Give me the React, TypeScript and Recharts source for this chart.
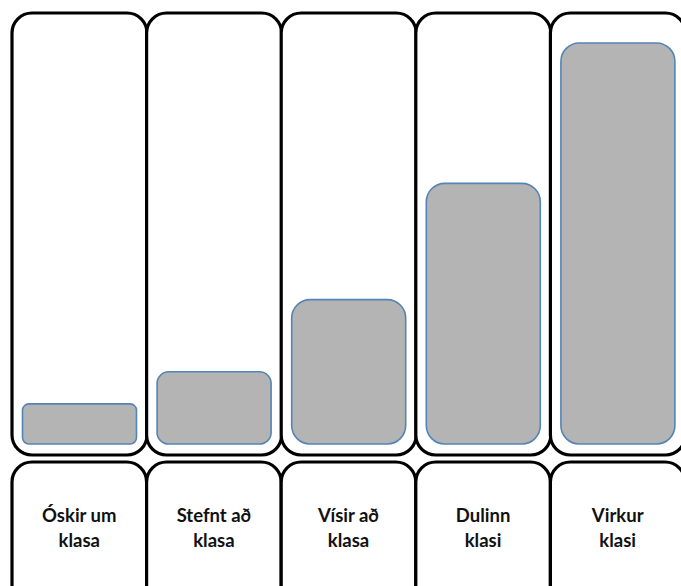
import React from 'react';
import { BarChart, Bar, XAxis, YAxis } from 'recharts';

const categories = ['Óskir um klasa', 'Stefnt að klasa', 'Vísir að klasa', 'Dulinn klasi', 'Virkur klasi'];
const levels = [10, 18, 36, 65, 100];

const data = categories.map((name, i) => ({ name, level: levels[i] }));

const GAP = 10;

// the tall panel behind each bar
const Panel = (props: any) => {
  const { x, y, width, height } = props;
  return (
    <rect
      x={x - GAP}
      y={y - 30}
      width={width + GAP * 2}
      height={height + 41}
      rx={20}
      ry={20}
      fill="#fff"
      stroke="#000"
      strokeWidth={3.2}
    />
  );
};

const RoundBar = (props: any) => {
  const { x, y, width, height } = props;
  if (!height) return null;
  const r = Math.min(width, height) * 0.16;
  return (
    <rect
      x={x + 0.5}
      y={y}
      width={width - 1}
      height={height}
      rx={r}
      ry={r}
      fill="#b4b4b4"
      stroke="#5484b4"
      strokeWidth={1.6}
    />
  );
};

const LabelBox = (props: any) => {
  const { x, y, payload } = props;
  const w = 134.6;
  const words = String(payload.value).split(' ');
  const line1 = words.slice(0, -1).join(' ');
  const line2 = words[words.length - 1];
  return (
    <g>
      <rect
        x={x - w / 2}
        y={y + 18}
        width={w}
        height={170}
        rx={20}
        ry={20}
        fill="#fff"
        stroke="#000"
        strokeWidth={3.2}
      />
      <text
        x={x}
        y={y + 78}
        textAnchor="middle"
        fontFamily="Lato, 'Open Sans', sans-serif"
        fontWeight={700}
        fontSize={18.5}
        fill="#111"
      >
        <tspan x={x} dy={0}>{line1}</tspan>
        <tspan x={x} dy={25}>{line2}</tspan>
      </text>
    </g>
  );
};

export default function App() {
  return (
    <div style={{ position: 'absolute', left: 0, top: 0, width: 681, height: 586, overflow: 'hidden', background: '#fff' }}>
      <BarChart
        width={685}
        height={586}
        data={data}
        margin={{ top: 43, right: 0, bottom: 0, left: 12 }}
        barCategoryGap={GAP}
      >
        <XAxis
          dataKey="name"
          height={142}
          axisLine={false}
          tickLine={false}
          tickSize={0}
          tickMargin={0}
          interval={0}
          tick={<LabelBox />}
        />
        <YAxis hide domain={[0, 100]} />
        <Bar
          dataKey="level"
          isAnimationActive={false}
          background={<Panel />}
          shape={<RoundBar />}
        />
      </BarChart>
    </div>
  );
}
